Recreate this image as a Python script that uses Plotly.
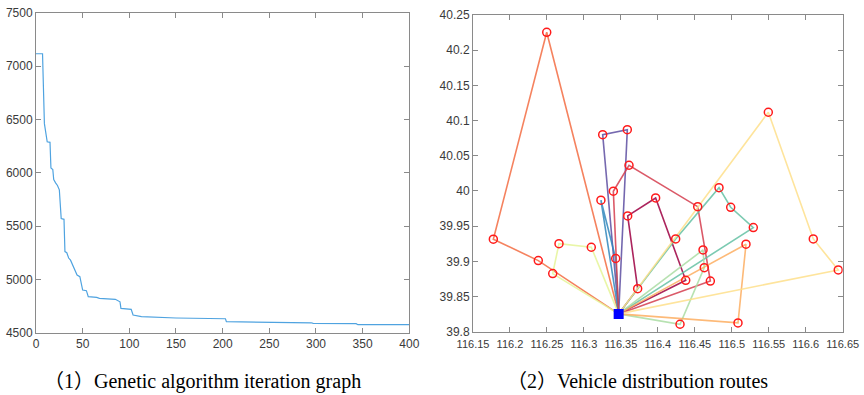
import plotly.graph_objects as go

# ---------------- Data ----------------
# (1) Genetic algorithm convergence: iteration breakpoints and best distance
ga_iter = [0, 7, 9, 11, 12, 15, 16, 18, 19, 21, 23, 25, 26, 27, 30, 31, 33, 35, 37, 40,
           43, 44, 47, 50, 54, 56, 65, 68, 85, 88, 90, 91, 102, 104, 111, 113, 150, 178,
           179, 203, 204, 270, 272, 295, 297, 343, 345, 400]
ga_value = [7115, 7115, 6460, 6370, 6290, 6285, 6045, 6030, 5935, 5905, 5880, 5840, 5620,
            5570, 5563, 5260, 5250, 5200, 5180, 5120, 5050, 5040, 5025, 4900, 4894, 4838,
            4831, 4822, 4813, 4795, 4790, 4728, 4719, 4666, 4656, 4650, 4638, 4638, 4631,
            4631, 4603, 4600, 4595, 4593, 4588, 4585, 4575, 4575]

# (2) Vehicle distribution: depot, customers, routes
depot_lon = [116.347]
depot_lat = [39.8253]
cust_lon = [116.2497, 116.5494, 116.3254, 116.3587, 116.3610, 116.4827, 116.3230, 116.3398,
            116.3970, 116.3592, 116.4539, 116.4985, 116.5291, 116.1775, 116.4241, 116.6102,
            116.2663, 116.3100, 116.5192, 116.4611, 116.2383, 116.3430, 116.6440, 116.4628,
            116.2578, 116.4377, 116.4710, 116.3727, 116.4300, 116.5084]
cust_lat = [40.2254, 40.1118, 40.0800, 40.0870, 40.0365, 40.0047, 39.9868, 39.9996,
            39.9900, 39.9645, 39.9777, 39.9768, 39.9479, 39.9314, 39.9318, 39.9318,
            39.9251, 39.9200, 39.9243, 39.9162, 39.9010, 39.9040, 39.8878, 39.8910,
            39.8826, 39.8730, 39.8720, 39.8612, 39.8106, 39.8125]
routes = [[20, 13, 0], [24, 16, 17], [2, 3], [6, 21], [7, 4, 10, 26],
          [27, 9, 8, 25], [14, 5, 11, 12], [19, 23, 28], [18, 29], [1, 15, 22]]
route_colors = ['#f46d43', '#e6f598', '#5e4fa2', '#3288bd', '#d53e4f',
                '#9e0142', '#66c2a5', '#abdda4', '#fdae61', '#fee08b']

xticks_left = [0, 50, 100, 150, 200, 250, 300, 350, 400]
yticks_left = [4500, 5000, 5500, 6000, 6500, 7000, 7500]
xticks_right = [116.15, 116.2, 116.25, 116.3, 116.35, 116.4, 116.45, 116.5, 116.55, 116.6, 116.65]
yticks_right = [39.8, 39.85, 39.9, 39.95, 40, 40.05, 40.1, 40.15, 40.2, 40.25]

captions = ['（1）Genetic algorithm iteration graph', '（2）Vehicle distribution routes']

# ---------------- Figure ----------------
W, H = 864, 395

def fx(px):
    return px / W

def fy(py):
    return 1 - py / H

fig = go.Figure()

fig.add_trace(go.Scatter(x=ga_iter, y=ga_value, mode='lines',
                         line=dict(color='#4fa3e0', width=1.2),
                         xaxis='x', yaxis='y', showlegend=False))

for r, c in zip(routes, route_colors):
    lons = depot_lon + [cust_lon[i] for i in r] + depot_lon
    lats = depot_lat + [cust_lat[i] for i in r] + depot_lat
    fig.add_trace(go.Scatter(x=lons, y=lats, mode='lines',
                             line=dict(color=c, width=1.6), opacity=0.85,
                             xaxis='x2', yaxis='y2', showlegend=False))

fig.add_trace(go.Scatter(x=cust_lon, y=cust_lat, mode='markers',
                         marker=dict(symbol='circle-open', size=8, color='#ff1a1a',
                                     line=dict(color='#ff1a1a', width=1.5)),
                         xaxis='x2', yaxis='y2', showlegend=False))
fig.add_trace(go.Scatter(x=depot_lon, y=depot_lat, mode='markers',
                         marker=dict(symbol='square', size=10, color='#0000ff'),
                         xaxis='x2', yaxis='y2', showlegend=False))

tick_font = dict(family='Liberation Sans, Arial', size=12, color='#3a3a3a')
axis_common = dict(showline=True, linecolor='#8a8a8a', linewidth=1, mirror='ticks',
                   ticks='inside', ticklen=5, tickcolor='#8a8a8a', showgrid=False,
                   zeroline=False, automargin=False)

fig.update_layout(
    template='none',
    width=W, height=H, margin=dict(l=0, r=0, t=0, b=0, pad=0),
    paper_bgcolor='white', plot_bgcolor='white',
    xaxis=dict(domain=[fx(36), fx(409.3)], range=[0, 400], tickvals=xticks_left,
               anchor='y', tickangle=0, tickfont=tick_font, **axis_common),
    yaxis=dict(domain=[fy(332.7), fy(12.7)], range=[4500, 7500], tickvals=yticks_left,
               anchor='x', tickfont=tick_font, **axis_common),
    xaxis2=dict(domain=[fx(473), fx(842.7)], range=[116.15, 116.65], tickvals=xticks_right,
                anchor='y2', tickangle=0, ticklabelstandoff=2,
                tickfont=dict(family='Liberation Sans, Arial', size=11, color='#3a3a3a'),
                **axis_common),
    yaxis2=dict(domain=[fy(331.7), fy(15)], range=[39.8, 40.25], tickvals=yticks_right,
                anchor='x2', tickfont=tick_font, **axis_common),
)

cap_font = dict(family='Liberation Serif, Times New Roman, Noto Sans CJK SC', size=20, color='#000')
fig.add_annotation(text=captions[0], x=fx(42), y=fy(381), xref='paper', yref='paper',
                   xanchor='left', yanchor='middle', showarrow=False, font=cap_font)
fig.add_annotation(text=captions[1], x=fx(505), y=fy(381), xref='paper', yref='paper',
                   xanchor='left', yanchor='middle', showarrow=False, font=cap_font)

fig.write_html('out.html', config={'displayModeBar': False},
               post_script="document.body.style.margin='0';")
